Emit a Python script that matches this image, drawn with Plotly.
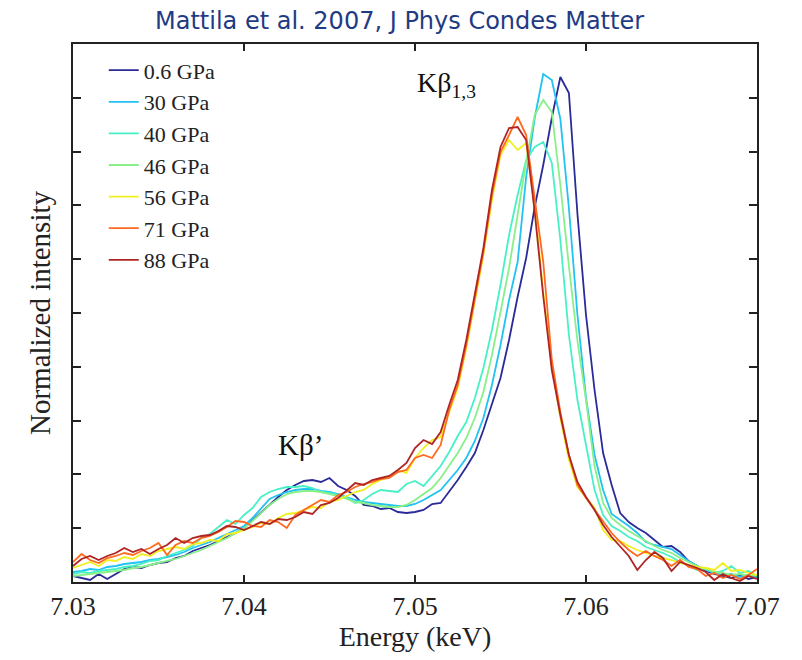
import numpy as np
import plotly.graph_objects as go

# Energy grid (keV), 0.5 eV steps from 7.030 to 7.070
energy = np.round(7.03 + 0.0005 * np.arange(81), 4)

# Fe K-beta emission spectra at increasing pressure (normalized intensity, a.u.)
p_0_6 = [1.2, 0.8, 0.4, 1.6, 0.6, 1.6, 2.6, 3.0, 2.8, 3.4,
         3.8, 4.0, 4.8, 5.2, 6.2, 6.8, 7.4, 8.2, 9.0, 9.8,
         10.8, 12.4, 13.8, 15.4, 17.0, 18.4, 19.4, 20.2, 20.4, 20.0,
         20.8, 19.2, 18.4, 17.2, 15.4, 15.2, 14.6, 14.8, 14.0, 13.8,
         14.0, 14.4, 15.6, 15.8, 18.0, 20.4, 23.0, 25.8, 30.4, 35.4,
         40.8, 48.4, 57.0, 64.8, 75.0, 83.4, 92.8, 101.0, 97.8, 73.6,
         53.4, 38.4, 25.8, 19.4, 13.8, 12.0, 10.8, 9.8, 8.4, 7.0,
         7.2, 6.0, 4.2, 3.2, 2.2, 1.6, 1.2, 0.8, 1.4, 0.6, 1.0]

p_30 = [2.0, 2.2, 2.6, 2.4, 3.0, 3.2, 3.6, 3.8, 4.0, 4.4,
        4.6, 5.0, 5.4, 6.0, 6.8, 7.4, 8.0, 8.8, 9.6, 10.4,
        11.2, 12.8, 14.8, 16.6, 17.4, 18.0, 18.4, 18.6, 18.6, 18.2,
        18.0, 17.6, 17.0, 16.4, 16.0, 15.8, 15.6, 15.4, 15.2, 15.2,
        15.6, 16.4, 17.4, 18.4, 20.4, 22.4, 24.8, 28.2, 32.8, 39.4,
        47.4, 56.4, 64.0, 81.0, 92.8, 101.6, 100.4, 92.6, 74.8, 53.4,
        36.8, 25.4, 18.4, 13.6, 12.4, 11.2, 9.8, 8.0, 7.4, 7.0,
        6.6, 5.4, 4.2, 3.2, 2.4, 1.8, 1.4, 1.6, 1.0, 1.4, 0.8]

p_40 = [1.6, 2.0, 1.8, 2.2, 2.4, 2.6, 3.0, 3.2, 3.6, 4.2,
        4.4, 5.2, 5.8, 6.4, 7.2, 8.8, 9.6, 11.0, 12.4, 11.6,
        13.4, 14.8, 17.0, 18.0, 18.6, 19.0, 19.0, 19.2, 18.8, 18.0,
        17.8, 17.4, 17.0, 15.8, 16.4, 17.6, 18.4, 18.2, 18.0, 19.6,
        20.2, 19.2, 21.2, 23.2, 26.0, 29.2, 32.0, 36.8, 42.8, 50.4,
        59.4, 69.4, 77.4, 84.4, 87.0, 88.0, 83.8, 68.4, 49.4, 36.4,
        27.4, 18.4, 13.4, 11.2, 10.2, 9.0, 8.2, 7.0, 6.4, 5.8,
        5.0, 4.0, 3.2, 2.4, 2.8, 1.8, 2.2, 3.2, 1.8, 2.2, 1.2]

p_46 = [1.2, 1.4, 1.6, 1.8, 2.0, 2.2, 2.4, 2.8, 3.0, 3.4,
        3.8, 4.2, 4.6, 5.2, 5.8, 6.4, 7.2, 8.0, 8.8, 9.8,
        10.8, 12.2, 13.8, 15.4, 16.6, 17.6, 18.0, 18.2, 18.2, 18.0,
        17.6, 17.2, 16.6, 16.0, 15.8, 15.4, 15.2, 15.0, 15.0, 15.4,
        16.4, 17.6, 18.8, 20.8, 23.2, 25.8, 28.8, 32.8, 38.0, 45.4,
        54.0, 62.8, 73.4, 84.0, 93.4, 96.4, 94.0, 79.4, 63.2, 48.2,
        36.4, 23.2, 15.8, 12.8, 11.4, 10.2, 9.2, 8.2, 7.2, 6.4,
        5.8, 4.8, 4.0, 3.2, 2.6, 2.0, 1.8, 1.4, 1.6, 1.2, 1.4]

p_56 = [2.8, 3.4, 4.0, 3.2, 4.4, 4.2, 5.0, 4.6, 5.6, 5.2,
        6.2, 6.6, 7.0, 6.6, 7.6, 7.8, 8.4, 8.2, 9.6, 9.8,
        10.4, 11.0, 11.8, 11.6, 12.8, 13.6, 13.8, 14.4, 15.0, 14.8,
        16.0, 16.4, 17.2, 18.0, 18.4, 19.6, 20.4, 21.0, 22.4, 21.8,
        24.8, 26.8, 28.4, 29.0, 34.0, 38.8, 46.8, 55.8, 65.4, 76.4,
        85.4, 88.4, 86.4, 87.8, 75.4, 58.0, 43.4, 32.8, 24.4, 19.0,
        16.8, 14.8, 10.4, 8.4, 8.2, 7.2, 6.4, 5.8, 5.2, 4.8,
        4.4, 3.8, 3.4, 3.0, 2.8, 2.4, 3.8, 2.2, 2.4, 1.8, 1.4]

p_71 = [4.0, 5.6, 4.4, 3.8, 4.8, 5.2, 5.8, 5.4, 6.2, 6.8,
        7.8, 5.4, 7.4, 8.2, 7.8, 8.8, 9.2, 10.0, 11.0, 12.2,
        12.0, 11.2, 11.0, 12.4, 12.0, 10.8, 13.4, 14.4, 15.4, 16.4,
        16.0, 17.4, 18.0, 19.0, 19.6, 20.0, 20.6, 20.8, 22.0, 22.4,
        24.8, 25.4, 24.8, 27.4, 34.4, 39.4, 47.4, 56.4, 66.0, 77.4,
        86.0, 89.4, 93.0, 89.4, 76.4, 64.0, 44.4, 34.0, 25.4, 19.4,
        16.8, 14.4, 12.0, 9.8, 8.0, 6.4, 5.2, 6.2, 5.2, 4.4,
        3.2, 4.4, 3.0, 2.6, 1.2, 1.8, 0.8, 1.4, 0.6, 1.4, 2.6]

p_88 = [3.2, 4.6, 5.2, 4.4, 5.2, 5.8, 6.8, 6.0, 6.6, 5.6,
        6.6, 7.4, 8.8, 7.8, 8.8, 9.2, 9.4, 10.2, 11.2, 11.0,
        10.4, 11.2, 12.0, 11.6, 12.6, 12.4, 13.0, 14.0, 13.6, 15.4,
        15.8, 16.8, 18.4, 19.8, 19.4, 20.4, 20.8, 21.2, 22.4, 23.8,
        26.8, 28.4, 27.6, 30.0, 35.4, 40.4, 48.4, 57.4, 66.8, 78.4,
        87.0, 90.8, 91.0, 88.4, 74.0, 57.2, 42.4, 33.4, 25.4, 20.0,
        17.0, 14.4, 11.4, 9.0, 7.0, 5.2, 2.4, 4.4, 6.0, 4.8,
        2.2, 4.0, 3.4, 2.8, 2.0, 0.4, 1.6, 0.8, 0.2, 1.2, 0.6]

labels = ["0.6 GPa", "30 GPa", "40 GPa", "46 GPa", "56 GPa", "71 GPa", "88 GPa"]
spectra = [p_0_6, p_30, p_40, p_46, p_56, p_71, p_88]
colors = ["#2a2a98", "#22c2f2", "#48f0c6", "#88f088", "#f0f020", "#ff6a20", "#b02424"]

x_ticks = [7.03, 7.04, 7.05, 7.06, 7.07]
y_top = 107.6

serif = "Liberation Serif, Times New Roman, serif"

fig = go.Figure()
for i, (name, vals, col) in enumerate(zip(labels, spectra, colors)):
    fig.add_trace(go.Scatter(
        x=energy, y=vals, mode="lines", name=name,
        line=dict(color=col, width=1.8),
        legendgroup=f"g{i}",
    ))

fig.update_layout(
    width=802, height=660,
    margin=dict(l=73, r=45, t=44, b=78),
    paper_bgcolor="white", plot_bgcolor="white",
    showlegend=True,
    legend=dict(
        x=0.045, y=0.99, xanchor="left", yanchor="top",
        bgcolor="rgba(0,0,0,0)", borderwidth=0,
        font=dict(family=serif, size=22, color="#222"),
        tracegroupgap=0,
    ),
    xaxis=dict(
        range=[7.03, 7.07], tickvals=x_ticks,
        ticktext=[f"{v:.2f}" for v in x_ticks],
        ticks="inside", ticklen=7, tickwidth=1.5, tickcolor="#222",
        showline=True, linewidth=2, linecolor="#222", mirror="ticks",
        showgrid=False, zeroline=False,
        tickfont=dict(family=serif, size=26, color="#222"),
        title=dict(text="Energy (keV)", font=dict(family=serif, size=28, color="#222"),
                   standoff=6),
    ),
    yaxis=dict(
        range=[0, y_top], tick0=0, dtick=y_top / 10,
        showticklabels=False,
        ticks="inside", ticklen=8, tickwidth=1.5, tickcolor="#222",
        showline=True, linewidth=2, linecolor="#222", mirror="ticks",
        showgrid=False, zeroline=False,
        title=dict(text="Normalized intensity", font=dict(family=serif, size=29, color="#222"),
                   standoff=12),
    ),
)

# Peak labels
fig.add_annotation(x=7.05, y=99.5, xref="x", yref="y", xanchor="left", yanchor="middle",
                   text="Kβ<sub>1,3</sub>", showarrow=False,
                   font=dict(family=serif, size=28, color="#111"))
fig.add_annotation(x=7.0433, y=27.4, xref="x", yref="y", xanchor="center", yanchor="middle",
                   text="Kβ’", showarrow=False,
                   font=dict(family=serif, size=29, color="#111"))

# Source caption
fig.add_annotation(x=0.478, y=1.043, xref="paper", yref="paper", xanchor="center", yanchor="middle",
                   text="Mattila et al. 2007, J Phys Condes Matter", showarrow=False,
                   font=dict(family="DejaVu Sans", size=24, color="#1f3b84"))

fig.write_html("out.html")
